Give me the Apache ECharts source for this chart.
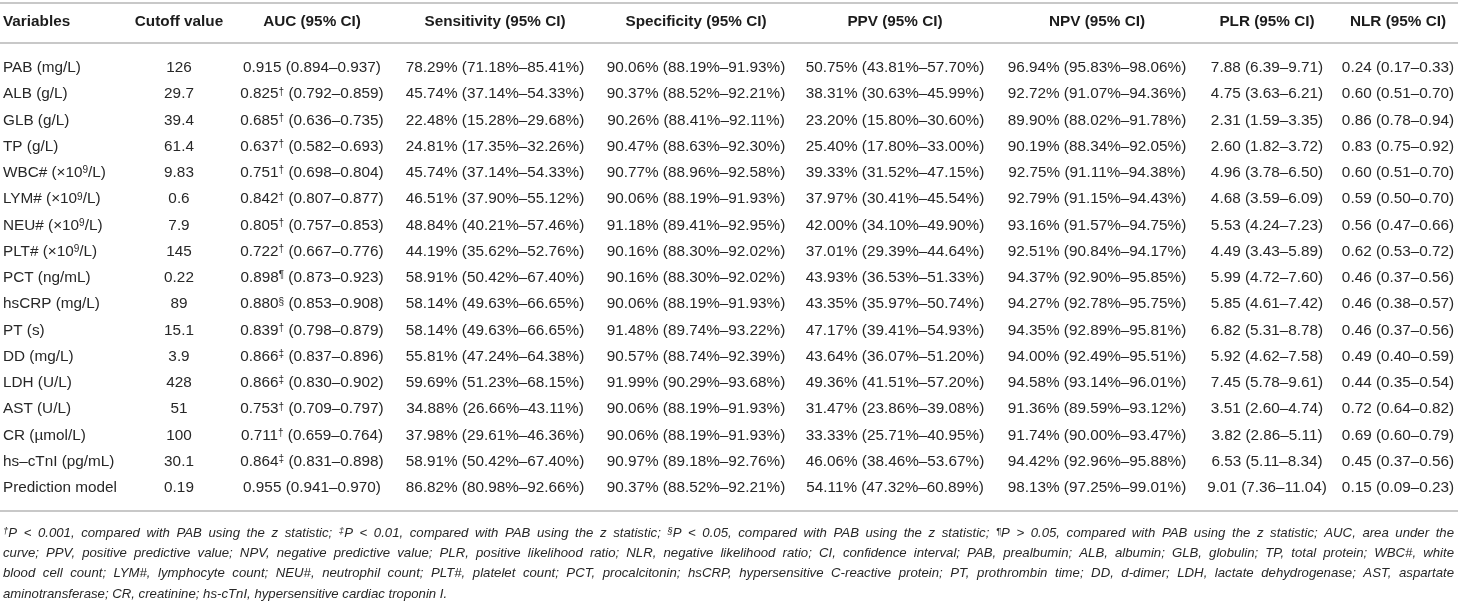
<!DOCTYPE html>
<html><head><meta charset="utf-8">
<script src="https://cdn.jsdelivr.net/npm/echarts@6/dist/echarts.min.js"></script>
<style>html,body{margin:0;padding:0;background:#fff}#c{width:1458px;height:603px}</style>
</head><body><div id="c"></div>
<script>
// ---------- DATA ----------
const headers = ['Variables','Cutoff value','AUC (95% CI)','Sensitivity (95% CI)','Specificity (95% CI)','PPV (95% CI)','NPV (95% CI)','PLR (95% CI)','NLR (95% CI)'];
const variables = ['PAB (mg/L)','ALB (g/L)','GLB (g/L)','TP (g/L)','WBC# (×10⁹/L)','LYM# (×10⁹/L)','NEU# (×10⁹/L)','PLT# (×10⁹/L)','PCT (ng/mL)','hsCRP (mg/L)','PT (s)','DD (mg/L)','LDH (U/L)','AST (U/L)','CR (µmol/L)','hs–cTnI (pg/mL)','Prediction model'];
const cutoffs = [126, 29.7, 39.4, 61.4, 9.83, 0.6, 7.9, 145, 0.22, 89, 15.1, 3.9, 428, 51, 100, 30.1, 0.19];
const aucEst = [0.915,0.825,0.685,0.637,0.751,0.842,0.805,0.722,0.898,0.880,0.839,0.866,0.866,0.753,0.711,0.864,0.955];
const aucLo  = [0.894,0.792,0.636,0.582,0.698,0.807,0.757,0.667,0.873,0.853,0.798,0.837,0.830,0.709,0.659,0.831,0.941];
const aucHi  = [0.937,0.859,0.735,0.693,0.804,0.877,0.853,0.776,0.923,0.908,0.879,0.896,0.902,0.797,0.764,0.898,0.970];
const aucSig = ['','†','†','†','†','†','†','†','¶','§','†','‡','‡','†','†','‡',''];
const sensEst = [78.29,45.74,22.48,24.81,45.74,46.51,48.84,44.19,58.91,58.14,58.14,55.81,59.69,34.88,37.98,58.91,86.82];
const sensLo  = [71.18,37.14,15.28,17.35,37.14,37.90,40.21,35.62,50.42,49.63,49.63,47.24,51.23,26.66,29.61,50.42,80.98];
const sensHi  = [85.41,54.33,29.68,32.26,54.33,55.12,57.46,52.76,67.40,66.65,66.65,64.38,68.15,43.11,46.36,67.40,92.66];
const specEst = [90.06,90.37,90.26,90.47,90.77,90.06,91.18,90.16,90.16,90.06,91.48,90.57,91.99,90.06,90.06,90.97,90.37];
const specLo  = [88.19,88.52,88.41,88.63,88.96,88.19,89.41,88.30,88.30,88.19,89.74,88.74,90.29,88.19,88.19,89.18,88.52];
const specHi  = [91.93,92.21,92.11,92.30,92.58,91.93,92.95,92.02,92.02,91.93,93.22,92.39,93.68,91.93,91.93,92.76,92.21];
const ppvEst = [50.75,38.31,23.20,25.40,39.33,37.97,42.00,37.01,43.93,43.35,47.17,43.64,49.36,31.47,33.33,46.06,54.11];
const ppvLo  = [43.81,30.63,15.80,17.80,31.52,30.41,34.10,29.39,36.53,35.97,39.41,36.07,41.51,23.86,25.71,38.46,47.32];
const ppvHi  = [57.70,45.99,30.60,33.00,47.15,45.54,49.90,44.64,51.33,50.74,54.93,51.20,57.20,39.08,40.95,53.67,60.89];
const npvEst = [96.94,92.72,89.90,90.19,92.75,92.79,93.16,92.51,94.37,94.27,94.35,94.00,94.58,91.36,91.74,94.42,98.13];
const npvLo  = [95.83,91.07,88.02,88.34,91.11,91.15,91.57,90.84,92.90,92.78,92.89,92.49,93.14,89.59,90.00,92.96,97.25];
const npvHi  = [98.06,94.36,91.78,92.05,94.38,94.43,94.75,94.17,95.85,95.75,95.81,95.51,96.01,93.12,93.47,95.88,99.01];
const plrEst = [7.88,4.75,2.31,2.60,4.96,4.68,5.53,4.49,5.99,5.85,6.82,5.92,7.45,3.51,3.82,6.53,9.01];
const plrLo  = [6.39,3.63,1.59,1.82,3.78,3.59,4.24,3.43,4.72,4.61,5.31,4.62,5.78,2.60,2.86,5.11,7.36];
const plrHi  = [9.71,6.21,3.35,3.72,6.50,6.09,7.23,5.89,7.60,7.42,8.78,7.58,9.61,4.74,5.11,8.34,11.04];
const nlrEst = [0.24,0.60,0.86,0.83,0.60,0.59,0.56,0.62,0.46,0.46,0.46,0.49,0.44,0.72,0.69,0.45,0.15];
const nlrLo  = [0.17,0.51,0.78,0.75,0.51,0.50,0.47,0.53,0.37,0.38,0.37,0.40,0.35,0.64,0.60,0.37,0.09];
const nlrHi  = [0.33,0.70,0.94,0.92,0.70,0.70,0.66,0.72,0.56,0.57,0.56,0.59,0.54,0.82,0.79,0.56,0.23];
const footnoteLines = [
  '{s|†}P < 0.001, compared with PAB using the z statistic; {s|‡}P < 0.01, compared with PAB using the z statistic; {s|§}P < 0.05, compared with PAB using the z statistic; {s|¶}P > 0.05, compared with PAB using the z statistic; AUC, area under the',
  'curve; PPV, positive predictive value; NPV, negative predictive value; PLR, positive likelihood ratio; NLR, negative likelihood ratio; CI, confidence interval; PAB, prealbumin; ALB, albumin; GLB, globulin; TP, total protein; WBC#, white',
  'blood cell count; LYM#, lymphocyte count; NEU#, neutrophil count; PLT#, platelet count; PCT, procalcitonin; hsCRP, hypersensitive C-reactive protein; PT, prothrombin time; DD, d-dimer; LDH, lactate dehydrogenase; AST, aspartate',
  'aminotransferase; CR, creatinine; hs-cTnI, hypersensitive cardiac troponin I.'
];

// ---------- LAYOUT / STYLE ----------
const W = 1458;
const FONT = '"Liberation Sans", Arial, sans-serif';
const FS = 15.3;
const colX = [3, 179, 312, 495, 696, 895, 1097, 1267, 1398];
const colAlign = ['left','center','center','center','center','center','center','center','center'];
const rowPitch = 26.25, padTop = 25, padBottom = 23;
const bodyTop = 43, bodyRows = variables.length;
const bodyHeight = padTop + (bodyRows - 1) * rowPitch + padBottom;
const lineStyle = { color: '#c8c8c8', width: 2 };
const textColor = '#272727';
const FN_FS = 13.2, FN_LEFT = 3, FN_RIGHT = 1454, FN_Y0 = 533, FN_PITCH = 20.4;
const SUP_FS = 9.5;

const supStyle = (fs, italic) => ({ fontSize: fs, fontFamily: FONT, fill: textColor, verticalAlign: 'top', fontStyle: italic ? 'italic' : 'normal' });

function richify(s) { return s.replace(/⁹/g, '{sup|9}'); }
function rng(e, lo, hi, d, pct) {
  const p = pct ? '%' : '';
  return e.toFixed(d) + p + ' (' + lo.toFixed(d) + p + '–' + hi.toFixed(d) + p + ')';
}
function rowCells(i) {
  return [
    richify(variables[i]),
    String(cutoffs[i]),
    aucEst[i].toFixed(3) + (aucSig[i] ? '{sup|' + aucSig[i] + '}' : '') + ' (' + aucLo[i].toFixed(3) + '–' + aucHi[i].toFixed(3) + ')',
    rng(sensEst[i], sensLo[i], sensHi[i], 2, true),
    rng(specEst[i], specLo[i], specHi[i], 2, true),
    rng(ppvEst[i], ppvLo[i], ppvHi[i], 2, true),
    rng(npvEst[i], npvLo[i], npvHi[i], 2, true),
    rng(plrEst[i], plrLo[i], plrHi[i], 2, false),
    rng(nlrEst[i], nlrLo[i], nlrHi[i], 2, false)
  ];
}

function renderHeader(params, api) {
  const children = headers.map((h, c) => {
    const p = api.coord([colX[c], 0]);
    return { type: 'text', x: p[0], y: p[1], silent: true,
      style: { text: h, fontSize: FS, fontFamily: FONT, fontWeight: 'bold', fill: '#1c1c1c', align: colAlign[c], verticalAlign: 'middle' } };
  });
  return { type: 'group', children };
}
function renderBody(params, api) {
  const row = api.value(1);
  const cells = rowCells(row);
  const children = cells.map((t, c) => {
    const p = api.coord([colX[c], row]);
    return { type: 'text', x: p[0], y: p[1], silent: true,
      style: { text: t, fontSize: FS, fontFamily: FONT, fill: textColor, align: colAlign[c], verticalAlign: 'middle',
        rich: { sup: supStyle(10, false) } } };
  });
  return { type: 'group', children };
}

// footnote (justified lines)
const mctx = document.createElement('canvas').getContext('2d');
function mw(str, fs) { mctx.font = 'italic ' + fs + 'px ' + FONT; return mctx.measureText(str).width; }
function wordWidth(w) {
  const m = w.match(/^\{s\|(.)\}(.*)$/);
  if (m) return mw(m[1], SUP_FS) + mw(m[2], FN_FS);
  return mw(w, FN_FS);
}
const graphics = [];
footnoteLines.forEach((line, li) => {
  const y = FN_Y0 + li * FN_PITCH;
  const words = line.split(' ');
  const widths = words.map(wordWidth);
  const total = widths.reduce((a, b) => a + b, 0);
  const justify = li < footnoteLines.length - 1;
  const gap = justify ? (FN_RIGHT - FN_LEFT - total) / (words.length - 1) : mw(' ', FN_FS);
  let x = FN_LEFT;
  words.forEach((w, k) => {
    graphics.push({ type: 'text', x: x, y: y, silent: true,
      style: { text: w, fontSize: FN_FS, fontFamily: FONT, fontStyle: 'italic', fill: textColor, verticalAlign: 'middle', align: 'left',
        rich: { s: supStyle(SUP_FS, true) } } });
    x += widths[k] + gap;
  });
});

const hiddenAxis = { axisTick: { show: false }, axisLabel: { show: false }, splitLine: { show: false } };
const chart = echarts.init(document.getElementById('c'));
chart.setOption({
  animation: false,
  backgroundColor: '#fff',
  grid: [
    { left: 0, right: 0, top: 3, height: bodyTop - 3 - 2 },
    { left: 0, right: 0, top: bodyTop, height: bodyHeight }
  ],
  xAxis: [
    Object.assign({ gridIndex: 0, type: 'value', min: 0, max: W, position: 'top', axisLine: { show: true, onZero: false, lineStyle } }, hiddenAxis),
    Object.assign({ gridIndex: 1, type: 'value', min: 0, max: W, position: 'top', axisLine: { show: true, onZero: false, lineStyle } }, hiddenAxis),
    Object.assign({ gridIndex: 1, type: 'value', min: 0, max: W, position: 'bottom', axisLine: { show: true, onZero: false, lineStyle } }, hiddenAxis)
  ],
  yAxis: [
    { gridIndex: 0, type: 'category', data: ['header'], show: false },
    { gridIndex: 1, type: 'value', inverse: true, show: false,
      min: -padTop / rowPitch, max: (bodyRows - 1) + padBottom / rowPitch }
  ],
  series: [
    { type: 'custom', xAxisIndex: 0, yAxisIndex: 0, silent: true, data: [[0, 0]], renderItem: renderHeader },
    { type: 'custom', xAxisIndex: 1, yAxisIndex: 1, silent: true, data: variables.map((v, i) => [0, i]), renderItem: renderBody }
  ],
  graphic: graphics
});
</script></body></html>
